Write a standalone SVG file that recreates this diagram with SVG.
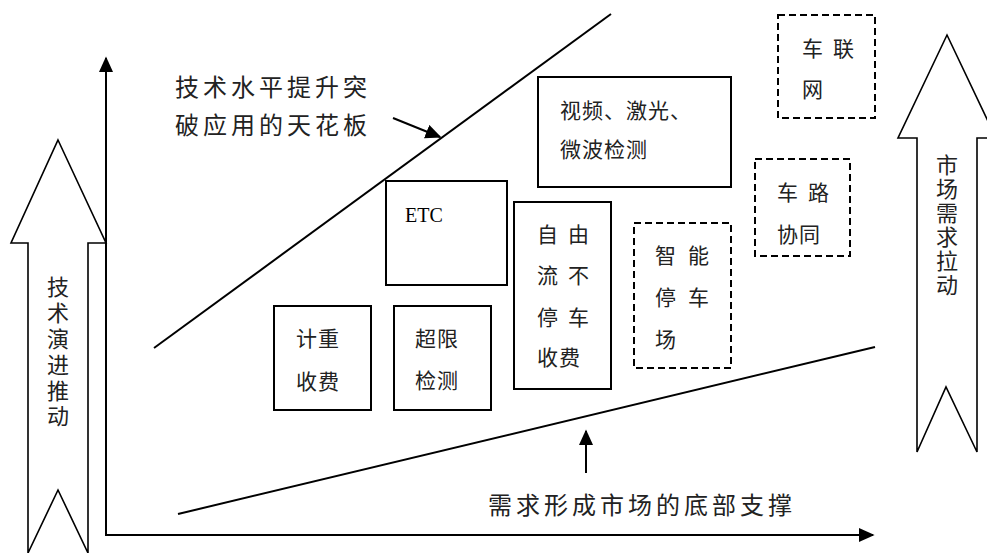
<svg xmlns="http://www.w3.org/2000/svg" width="987" height="553" viewBox="0 0 987 553">
<style>
.bg{fill:#fff}
.box{fill:#fff;stroke:#000;stroke-width:2}
.dash{fill:#fff;stroke:#000;stroke-width:2;stroke-dasharray:7 4}
.ln{fill:none;stroke:#000;stroke-width:2}
.blk{fill:#fff;stroke:#000;stroke-width:1.6;stroke-linejoin:miter}
.t{font-family:"Noto Sans CJK SC","Liberation Sans",sans-serif;font-size:21px;fill:#222}
.tl{font-family:"Noto Sans CJK SC","Liberation Sans",sans-serif;font-size:24px;fill:#222;letter-spacing:4px}
.tv{font-family:"Noto Sans CJK SC","Liberation Sans",sans-serif;font-size:22px;fill:#222;writing-mode:vertical-rl;text-orientation:upright}
.etc{font-family:"Liberation Serif",serif;font-size:20px;fill:#000}
</style>
<defs>
<marker id="ah2" viewBox="0 0 10 10" refX="9" refY="5" markerWidth="16" markerHeight="16" markerUnits="userSpaceOnUse" orient="auto">
<path d="M0,0.5 L10,5 L0,9.5 z" fill="#000"/>
</marker>
</defs>
<rect class="bg" x="0" y="0" width="987" height="553"/>

<g id="push-arrow">
<polygon class="blk" points="58,140 106,243 88,243 88,553 58,490 28,553 28,243 11,243"/>
<text class="tv" x="58" y="276" letter-spacing="3.8">技术演进推动</text>
</g>

<g id="pull-arrow">
<polygon class="blk" points="947,35 996,138 977,138 977,452 946,387 917,452 917,138 898,138"/>
<text class="tv" x="947" y="154" letter-spacing="2">市场需求拉动</text>
</g>

<g id="connectors">
<line class="ln" x1="106" y1="536" x2="106" y2="58" marker-end="url(#ah2)"/>
<line class="ln" x1="105" y1="535" x2="873" y2="535" marker-end="url(#ah2)"/>
<line class="ln" x1="154" y1="348" x2="611" y2="14"/>
<line class="ln" x1="178" y1="514" x2="875" y2="347"/>
<line class="ln" x1="393" y1="118" x2="440" y2="137" marker-end="url(#ah2)"/>
<line class="ln" x1="586" y1="473" x2="586" y2="431" marker-end="url(#ah2)"/>
</g>

<g id="ceiling-label">
<text class="tl" x="175" y="96">技术水平提升突</text>
<text class="tl" x="175" y="134">破应用的天花板</text>
</g>

<g id="floor-label">
<text class="tl" x="488" y="514">需求形成市场的底部支撑</text>
</g>

<g id="weigh-toll">
<rect class="box" x="274" y="306" width="97" height="104"/>
<text class="t" x="296" y="346" letter-spacing="1">计重</text>
<text class="t" x="296" y="389" letter-spacing="1">收费</text>
</g>

<g id="overload">
<rect class="box" x="394" y="306" width="97" height="104"/>
<text class="t" x="415" y="346" letter-spacing="1">超限</text>
<text class="t" x="415" y="388" letter-spacing="1">检测</text>
</g>

<g id="etc">
<rect class="box" x="386" y="181" width="121" height="104"/>
<text class="etc" x="405" y="222">ETC</text>
</g>

<g id="free-flow">
<rect class="box" x="514" y="202" width="97" height="187"/>
<text class="t" x="537 568" y="242">自由</text>
<text class="t" x="537 568" y="283">流不</text>
<text class="t" x="537 568" y="325">停车</text>
<text class="t" x="537" y="365" letter-spacing="1">收费</text>
</g>

<g id="detection">
<rect class="box" x="538" y="77" width="193" height="110"/>
<text class="t" x="560" y="118" font-size="22" letter-spacing="1">视频、激光、</text>
<text class="t" x="560" y="157" font-size="22" letter-spacing="1">微波检测</text>
</g>

<g id="smart-parking">
<rect class="dash" x="634" y="223" width="97" height="145"/>
<text class="t" x="655 688" y="263">智能</text>
<text class="t" x="655 688" y="305">停车</text>
<text class="t" x="655" y="347">场</text>
</g>

<g id="vehicle-road">
<rect class="dash" x="755" y="159" width="95" height="97"/>
<text class="t" x="777 808" y="200">车路</text>
<text class="t" x="777" y="242" letter-spacing="1">协同</text>
</g>

<g id="iov">
<rect class="dash" x="778" y="15" width="97" height="103"/>
<text class="t" x="802 833" y="56">车联</text>
<text class="t" x="802" y="97">网</text>
</g>
</svg>
